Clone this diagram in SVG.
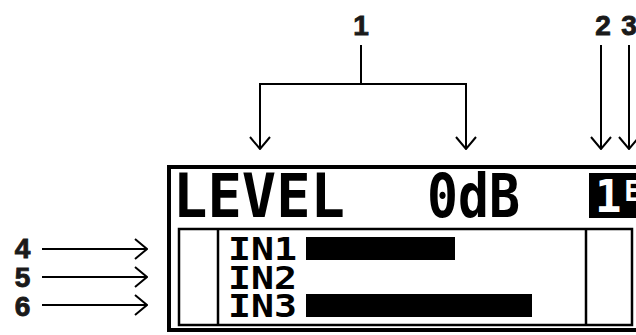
<svg xmlns="http://www.w3.org/2000/svg" width="636" height="335" viewBox="0 0 636 335">
<defs>
<style>
.lbl{font-family:"Liberation Sans",Arial,sans-serif;font-weight:bold;font-size:28px;fill:#1a1a1a;stroke:#1a1a1a;stroke-width:0.9px;text-anchor:middle}
.lcd{font-family:"DejaVu Sans Mono",monospace;font-weight:bold;fill:#000}
.frame{fill:none;stroke:#000}
.conn{fill:none;stroke:#000;stroke-width:2;marker-end:url(#arr)}
</style>
<marker id="arr" markerUnits="userSpaceOnUse" viewBox="0 0 14 22" markerWidth="14" markerHeight="22" refX="13" refY="11" orient="auto">
<path d="M1,1 L13,11 L1,21" fill="none" stroke="#000" stroke-width="2"/>
</marker>
</defs>
<rect width="636" height="335" fill="#fff"/>

<g id="display">
<rect class="frame" x="169" y="167" width="480" height="163" stroke-width="4"/>
</g>
<g id="header-level">
<text class="lcd" x="173" y="217" font-size="60" textLength="172" lengthAdjust="spacingAndGlyphs">LEVEL</text>
</g>
<g id="header-value">
<text class="lcd" x="427" y="217" font-size="60" textLength="93" lengthAdjust="spacingAndGlyphs">0dB</text>
</g>
<g id="header-indicator">
<rect x="589" y="173" width="60" height="45" fill="#000"/>
<text class="lcd" x="595" y="212" font-size="44" style="fill:#fff">1</text>
<text class="lcd" x="624" y="201" font-size="29" style="fill:#fff">E</text>
</g>
<g id="meter-panel">
<rect class="frame" x="179" y="229" width="453" height="96" stroke-width="2.5"/>
<line x1="218" y1="229" x2="218" y2="325" stroke="#000" stroke-width="2.5"/>
<line x1="586" y1="229" x2="586" y2="325" stroke="#000" stroke-width="2.5"/>
</g>
<g id="row-in1">
<text class="lcd" x="228" y="260" font-size="31.5" textLength="69" lengthAdjust="spacingAndGlyphs">IN1</text>
<rect x="306" y="237" width="149" height="23" fill="#000"/>
</g>
<g id="row-in2">
<text class="lcd" x="228" y="288.5" font-size="31.5" textLength="69" lengthAdjust="spacingAndGlyphs">IN2</text>
</g>
<g id="row-in3">
<text class="lcd" x="228" y="317" font-size="31.5" textLength="69" lengthAdjust="spacingAndGlyphs">IN3</text>
<rect x="306" y="294" width="226" height="23" fill="#000"/>
</g>

<g id="label-1"><text class="lbl" x="361" y="35">1</text></g>
<g id="label-2"><text class="lbl" x="603" y="35">2</text></g>
<g id="label-3"><text class="lbl" x="629" y="35">3</text></g>
<g id="label-4"><text class="lbl" x="22.5" y="258">4</text></g>
<g id="label-5"><text class="lbl" x="22.5" y="287">5</text></g>
<g id="label-6"><text class="lbl" x="22.5" y="316">6</text></g>

<g id="connectors">
<path class="conn" d="M361,45 V84 H260 V149"/>
<path class="conn" d="M361,84 H466 V149"/>
<path class="conn" d="M601,45 V149"/>
<path class="conn" d="M629,45 V149"/>
<path class="conn" d="M42,249 H147"/>
<path class="conn" d="M42,277 H147"/>
<path class="conn" d="M42,305 H147"/>
</g>
</svg>
